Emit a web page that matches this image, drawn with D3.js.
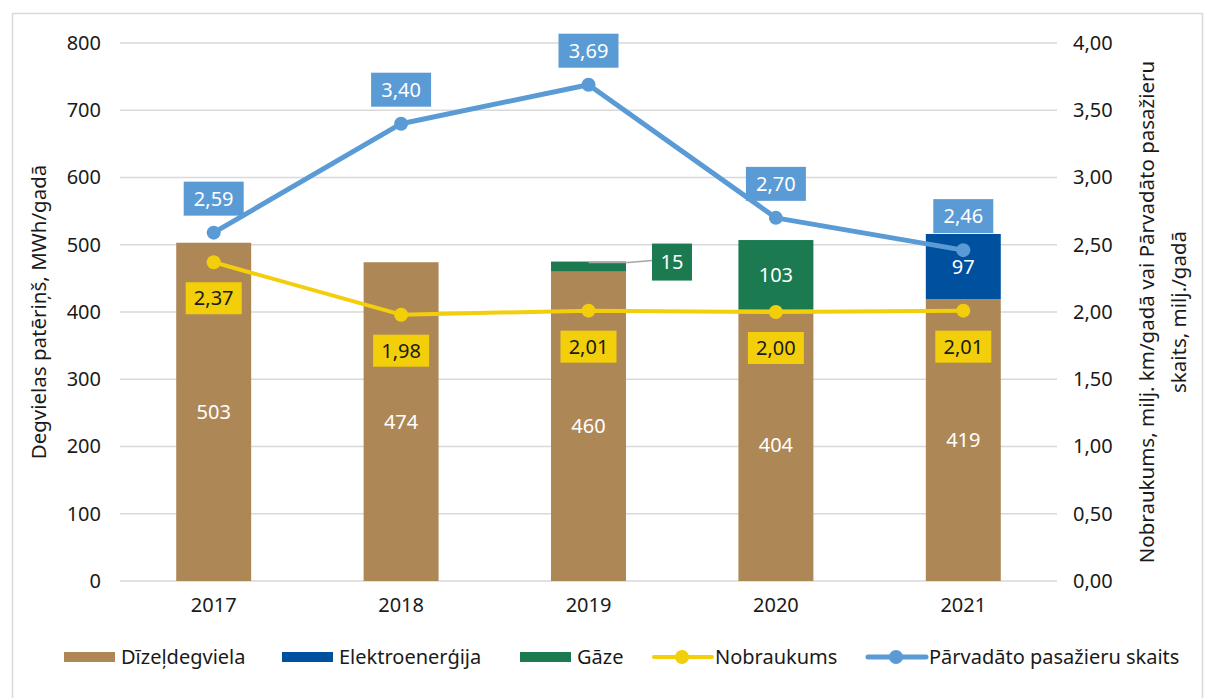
<!DOCTYPE html>
<html><head><meta charset="utf-8">
<script src="https://cdn.jsdelivr.net/npm/d3@7"></script>
<style>body{margin:0;background:#fff}svg{display:block}text{font-family:"Noto Sans",sans-serif}</style>
</head><body>
<svg id="c" width="1210" height="698"></svg>
<script>
const years = ["2017","2018","2019","2020","2021"];
const diesel = [503, 474, 460, 404, 419];
const electricity = [0, 0, 0, 0, 97];
const gas = [0, 0, 15, 103, 0];
const mileage = [2.37, 1.98, 2.01, 2.00, 2.01];
const passengers = [2.59, 3.40, 3.69, 2.70, 2.46];
const leftTicks = [0,100,200,300,400,500,600,700,800];
const rightTicks = [0,0.5,1,1.5,2,2.5,3,3.5,4];
const seriesNames = ["Dīzeļdegviela","Elektroenerģija","Gāze","Nobraukums","Pārvadāto pasažieru skaits"];
const leftTitle = "Degvielas patēriņš, MWh/gadā";
const rightTitle = ["Nobraukums, milj. km/gadā vai Pārvadāto pasažieru","skaits, milj./gadā"];

const C = {diesel:"#ae8757", el:"#0050a0", gas:"#1b7a4f", yellow:"#f2cf0a", blue:"#5b9bd5", grid:"#d9d9d9", text:"#1a1a1a"};
const svg = d3.select("#c");
const fmt = v => d3.format(".2f")(v).replace(".", ",");

svg.append("rect").attr("x",12.5).attr("y",13.5).attr("width",1190).attr("height",690)
  .attr("fill","#fff").attr("stroke","#d9d9d9").attr("stroke-width",1.5);

const x = d3.scaleBand().domain(years).range([120,1057]).paddingInner(0.6).paddingOuter(0.3);
const yL = d3.scaleLinear().domain([0,800]).range([581,43]);
const yR = d3.scaleLinear().domain([0,4]).range([581,43]);

// grid
svg.append("g").selectAll("line").data(leftTicks).join("line")
  .attr("x1",120).attr("x2",1057).attr("y1",d=>yL(d)).attr("y2",d=>yL(d))
  .attr("stroke",C.grid).attr("stroke-width",1.5);

// left ticks
const gl = svg.append("g").attr("transform","translate(101,0)")
  .call(d3.axisLeft(yL).tickValues(leftTicks).tickSize(0).tickPadding(0));
gl.select(".domain").remove();
gl.selectAll("text").attr("font-size",20).attr("fill",C.text).attr("font-family","Noto Sans");

const gr = svg.append("g").attr("transform","translate(1073,0)")
  .call(d3.axisRight(yR).tickValues(rightTicks).tickSize(0).tickPadding(0).tickFormat(fmt));
gr.select(".domain").remove();
gr.selectAll("text").attr("font-size",20).attr("fill",C.text).attr("font-family","Noto Sans");

const gx = svg.append("g").attr("transform","translate(0,597)")
  .call(d3.axisBottom(x).tickSize(0).tickPadding(0));
gx.select(".domain").remove();
gx.selectAll("text").attr("font-size",20).attr("fill",C.text).attr("font-family","Noto Sans").attr("dy","0.75em");

// stacked bars
const rows = years.map((y,i)=>({year:y, diesel:diesel[i], el:electricity[i], gas:gas[i]}));
const stack = d3.stack().keys(["diesel","el","gas"])(rows);
const colors = {diesel:C.diesel, el:C.el, gas:C.gas};
svg.append("g").selectAll("g").data(stack).join("g").attr("fill",d=>colors[d.key])
  .selectAll("rect").data(d=>d.filter(p=>p[1]>p[0])).join("rect")
  .attr("x",d=>x(d.data.year)).attr("width",x.bandwidth())
  .attr("y",d=>yL(d[1])).attr("height",d=>yL(d[0])-yL(d[1]));

// bar labels
svg.append("g").selectAll("text").data(rows).join("text")
  .attr("x",d=>x(d.year)+x.bandwidth()/2).attr("y",d=>yL(d.diesel/2)).attr("dy","0.35em")
  .attr("text-anchor","middle").attr("font-size",20).attr("fill","#fff").text(d=>d.diesel);
const inner = [];
rows.forEach(d=>{
  if (d.el>30) inner.push({year:d.year, v:d.el, mid:d.diesel+d.el/2});
  if (d.gas>30) inner.push({year:d.year, v:d.gas, mid:d.diesel+d.el+d.gas/2});
});
svg.append("g").selectAll("text").data(inner).join("text")
  .attr("x",d=>x(d.year)+x.bandwidth()/2).attr("y",d=>yL(d.mid)).attr("dy","0.35em")
  .attr("text-anchor","middle").attr("font-size",20).attr("fill","#fff").text(d=>d.v);
const small = rows.filter(d=>d.gas>0 && d.gas<=30);
const sg = svg.append("g");
small.forEach(d=>{
  const cx = x(d.year)+x.bandwidth()/2, top = yL(d.diesel+d.el+d.gas);
  const bx = x(d.year)+x.bandwidth()+26, by = top - 18;
  sg.append("polyline").attr("points",`${cx},${top+1} ${cx+40},${top+1} ${bx},${top-1}`)
    .attr("fill","none").attr("stroke","#a6a6a6").attr("stroke-width",1.5);
  sg.append("rect").attr("x",bx).attr("y",by).attr("width",40).attr("height",37).attr("fill",C.gas);
  sg.append("text").attr("x",bx+20).attr("y",by+18.5).attr("dy","0.35em").attr("text-anchor","middle")
    .attr("font-size",20).attr("fill","#fff").text(d.gas);
});

// lines
const cx = y => x(y)+x.bandwidth()/2;
function drawLine(vals, color, w){
  const g = svg.append("g");
  g.append("path").datum(vals).attr("fill","none").attr("stroke",color).attr("stroke-width",w)
    .attr("stroke-linejoin","round").attr("stroke-linecap","round")
    .attr("d", d3.line().x((d,i)=>cx(years[i])).y(d=>yR(d)));
  g.selectAll("circle").data(vals).join("circle").attr("cx",(d,i)=>cx(years[i])).attr("cy",d=>yR(d))
    .attr("r",7).attr("fill",color);
}
drawLine(mileage, C.yellow, 4);
drawLine(passengers, C.blue, 5);

// point labels
function pointLabels(vals, fill, txt, off, w, h){
  const g = svg.append("g");
  const items = g.selectAll("g").data(vals).join("g")
    .attr("transform",(d,i)=>`translate(${cx(years[i])},${yR(d)+off})`);
  items.append("rect").attr("x",-w/2).attr("y",-h/2).attr("width",w).attr("height",h).attr("fill",fill);
  items.append("text").attr("text-anchor","middle").attr("dy","0.35em").attr("font-size",20)
    .attr("fill",txt).text(d=>fmt(d));
}
pointLabels(mileage, C.yellow, "#1a1a1a", 36, 56, 32);
pointLabels(passengers, C.blue, "#fff", -34, 60, 34);

// axis titles
svg.append("text").attr("transform","translate(46,312) rotate(-90)").attr("text-anchor","middle")
  .attr("font-size",20.5).attr("fill",C.text).text(leftTitle);
const rt = svg.append("text").attr("transform","translate(1154,312) rotate(-90)").attr("text-anchor","middle")
  .attr("font-size",20.5).attr("fill",C.text);
rt.selectAll("tspan").data(rightTitle).join("tspan").attr("x",0).attr("dy",(d,i)=>i===0?0:"1.55em").text(d=>d);

// legend
const legendY = 657;
const lg = svg.append("g");
const boxItems = [{x:64, c:C.diesel, t:seriesNames[0]},{x:282, c:C.el, t:seriesNames[1]},{x:520, c:C.gas, t:seriesNames[2]}];
boxItems.forEach(it=>{
  lg.append("rect").attr("x",it.x).attr("y",legendY-5).attr("width",51).attr("height",10).attr("fill",it.c);
  lg.append("text").attr("x",it.x+57).attr("y",legendY).attr("dy","0.35em").attr("font-size",20).attr("fill",C.text).text(it.t);
});
const lineItems = [{x:654, c:C.yellow, t:seriesNames[3], w:4},{x:868, c:C.blue, t:seriesNames[4], w:5}];
lineItems.forEach(it=>{
  lg.append("line").attr("x1",it.x).attr("x2",it.x+58).attr("y1",legendY).attr("y2",legendY)
    .attr("stroke",it.c).attr("stroke-width",it.w).attr("stroke-linecap","round");
  lg.append("circle").attr("cx",it.x+28).attr("cy",legendY).attr("r",7).attr("fill",it.c);
  lg.append("text").attr("x",it.x+61).attr("y",legendY).attr("dy","0.35em").attr("font-size",20).attr("fill",C.text).text(it.t);
});
</script>
</body></html>
